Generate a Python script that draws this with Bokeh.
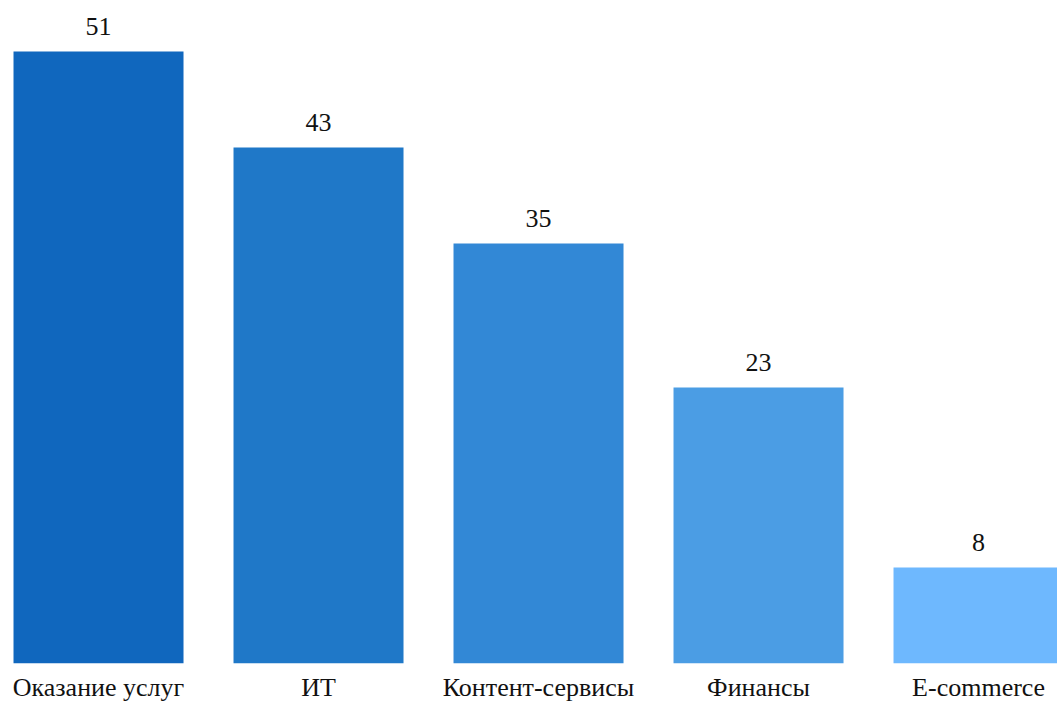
from bokeh.plotting import figure
from bokeh.models import ColumnDataSource, Range1d, FixedTicker, LabelSet
from bokeh.embed import file_html
from bokeh.resources import INLINE

categories = ["Оказание услуг", "ИТ", "Контент-сервисы", "Финансы", "E-commerce"]
values = [51, 43, 35, 23, 8]
colors = ["#1067BE", "#1F78C8", "#3288D6", "#4B9DE4", "#6EB8FE"]

FONT = "Liberation Serif"

idx = list(range(len(categories)))
src = ColumnDataSource(dict(x=idx, top=values, color=colors,
                            label=[str(v) for v in values]))

p = figure(width=1057, height=704, output_backend="svg", toolbar_location=None,
           x_range=Range1d(-0.4455, 4.359), y_range=Range1d(0, 55.25),
           min_border_left=0, min_border_right=0, min_border_top=0,
           min_border_bottom=41)
p.vbar(x="x", top="top", width=170/220, color="color", source=src, line_color=None)

labels = LabelSet(x="x", y="top", text="label", source=src, text_align="center",
                  text_baseline="alphabetic", y_offset=17, text_font=FONT,
                  text_font_size="26px", text_color="#111111")
p.add_layout(labels)

p.xaxis.ticker = FixedTicker(ticks=idx)
p.xaxis.major_label_overrides = {i: c for i, c in zip(idx, categories)}
p.xaxis.major_label_text_font = FONT
p.xaxis.major_label_text_font_size = "26px"
p.xaxis.major_label_text_color = "#111111"
p.xaxis.major_label_standoff = 3
p.xaxis.major_tick_line_color = None
p.xaxis.minor_tick_line_color = None
p.xaxis.axis_line_color = None
p.yaxis.visible = False
p.xgrid.visible = False
p.ygrid.visible = False
p.outline_line_color = None

open("out.html", "w").write(file_html(p, INLINE))
